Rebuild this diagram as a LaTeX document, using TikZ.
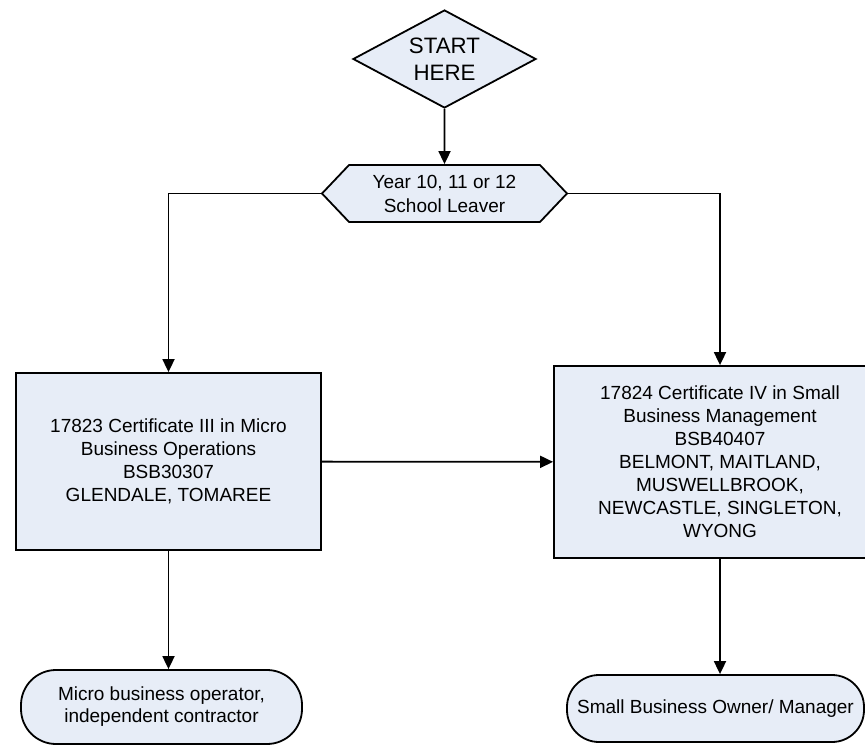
\documentclass[tikz,border=0pt]{standalone}
\usepackage{fontspec}
\setmainfont{Liberation Sans}
\usepackage{xcolor}
\usepackage{tikz}
\usetikzlibrary{arrows.meta, shapes.geometric, shapes.symbols}
\definecolor{shapefill}{RGB}{231,237,247}

\begin{document}
\begin{tikzpicture}[x=1pt, y=-1pt, >={Triangle[length=13pt, width=12pt]}, line width=1.8pt,
        decision/.style={diamond, draw, fill=shapefill, minimum width=183pt, minimum height=98pt, aspect=1.87, inner sep=0pt, align=center, font=\fontsize{22.3}{27}\selectfont},
        leaver/.style={signal, signal to=west and east, signal pointer angle=93, draw, fill=shapefill, minimum width=245pt, minimum height=57pt, inner sep=0pt, align=center, font=\fontsize{19}{24}\selectfont},
        block/.style={rectangle, draw, fill=shapefill, inner sep=0pt, align=center, font=\fontsize{19}{23}\selectfont},
        term/.style={rectangle, draw, fill=shapefill, rounded corners=35pt, inner sep=0pt, align=center, font=\fontsize{19}{22}\selectfont}]
        \useasboundingbox (0,0) rectangle (865,746);

        \node (start) [decision] at (444.5,59) {START\\HERE};
        \node (leaver) [leaver] at (444.5,193.5) {Year 10, 11 or 12\\School Leaver};
        \node (cert3) [block, minimum width=305pt, minimum height=177pt] at (168.5,461.5) {17823 Certificate III in Micro\\Business Operations\\BSB30307\\GLENDALE, TOMAREE};
        \node (cert4) [block, minimum width=332pt, minimum height=192pt] at (720,462) {17824 Certificate IV in Small\\Business Management\\BSB40407\\BELMONT, MAITLAND,\\MUSWELLBROOK,\\NEWCASTLE, SINGLETON,\\WYONG};
        \node (micro) [term, minimum width=281pt, minimum height=74pt] at (161.5,707) {Micro business operator,\\independent contractor};
        \node (owner) [term, rounded corners=32pt, minimum width=297pt, minimum height=67pt] at (715.5,708.5) {Small Business Owner/ Manager};

        \draw[->] (start) -- (leaver);
        \draw[->] (leaver.west) -| (cert3.north);
        \draw[->] (leaver.east) -| (cert4.north);
        \draw[->] (cert3) -- (cert4);
        \draw[->] (cert3.south) -- (cert3.south |- micro.north);
        \draw[->] (cert4.south) -- (cert4.south |- owner.north);
    \end{tikzpicture}
\end{document}
